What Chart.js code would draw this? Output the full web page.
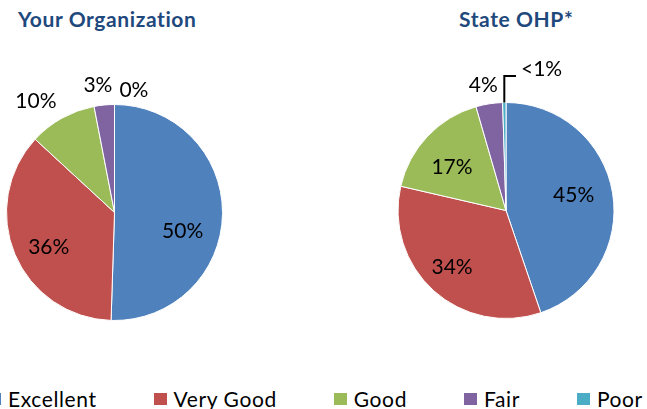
<!DOCTYPE html>
<html>
<head>
<meta charset="utf-8">
<script src="https://cdn.jsdelivr.net/npm/chart.js@4"></script>
<style>
  body { margin: 0; width: 647px; height: 409px; overflow: hidden; background: #fff; position: relative;
         font-family: Lato, 'Open Sans', sans-serif; }
  .title { position: absolute; top: 6px; font-weight: bold; font-size: 21px; line-height: 26px; letter-spacing: 0.6px; color: #1F497D; white-space: nowrap; }
  #legend { position: absolute; left: -12px; top: 388px; display: flex; align-items: center; }
  #legend .item { display: flex; align-items: center; margin-right: 57px; font-size: 21px; line-height: 22px; letter-spacing: 0.6px; color: #000; white-space: nowrap; }
  #legend .box { width: 13px; height: 12px; margin-right: 7px; }
  canvas { position: absolute; }
</style>
</head>
<body>
<div class="title" style="left:18px">Your Organization</div>
<div class="title" style="left:459px">State OHP*</div>
<div style="position:absolute;left:0;top:60px;width:240px;height:280px"><canvas id="org"></canvas></div>
<div style="position:absolute;left:380px;top:40px;width:260px;height:300px"><canvas id="state"></canvas></div>
<div id="legend"></div>
<script>
var labels = ["Excellent", "Very Good", "Good", "Fair", "Poor"];
var colors = ["#4F81BD", "#C0504D", "#9BBB59", "#8064A2", "#4BACC6"];
var orgValues = [50, 36, 10, 3, 0];
var stateValues = [45, 34, 17, 4, 0.5];

// draws the percentage labels next to each slice
var pieLabels = {
  id: "pieLabels",
  afterDatasetsDraw: function(chart, args, opts) {
    var ctx = chart.ctx;
    var meta = chart.getDatasetMeta(0);
    var data = chart.data.datasets[0].data;
    ctx.save();
    ctx.font = "21px Lato, 'Open Sans', sans-serif";
    ctx.fillStyle = "#000";
    ctx.textAlign = "center";
    ctx.textBaseline = "middle";
    meta.data.forEach(function(arc, i) {
      var p = arc.getProps(["x", "y", "startAngle", "endAngle", "outerRadius"], true);
      var tw = opts.place[i];
      var m = (p.startAngle + p.endAngle) / 2;
      var a = m + tw[0] * Math.PI / 180;
      var r = p.outerRadius * tw[1];
      var x = p.x + Math.cos(a) * r;
      var y = p.y + Math.sin(a) * r;
      var text = data[i] > 0 && data[i] < 1 ? "<1%" : data[i] + "%";
      if (tw[2]) {
        // leader line for the tiny slice
        var sx = p.x + Math.cos(m) * p.outerRadius;
        var sy = p.y + Math.sin(m) * p.outerRadius;
        var ly = y + 7;
        var ex = x - ctx.measureText(text).width / 2 - 5;
        ctx.strokeStyle = "#000";
        ctx.lineWidth = 2;
        ctx.beginPath();
        ctx.moveTo(sx, sy);
        ctx.lineTo(sx, ly);
        ctx.lineTo(ex, ly);
        ctx.stroke();
      }
      ctx.fillText(text, x, y);
    });
    ctx.restore();
  }
};

function makePie(id, values, padding, place) {
  return new Chart(document.getElementById(id).getContext("2d"), {
    type: "pie",
    data: {
      labels: labels,
      datasets: [{
        data: values,
        backgroundColor: colors,
        borderColor: "#fff",
        borderWidth: 1
      }]
    },
    options: {
      responsive: true,
      maintainAspectRatio: false,
      animation: false,
      layout: { padding: padding },
      plugins: {
        legend: { display: false },
        tooltip: { enabled: false },
        pieLabels: { place: place }
      }
    },
    plugins: [pieLabels]
  });
}

makePie("org", orgValues, { left: 6, right: 17, top: 44, bottom: 19 },
  [[14.2, 0.654], [-5.4, 0.69], [-6.1, 1.263], [-2, 1.185], [9, 1.148]]);
makePie("state", stateValues, { left: 17, right: 25, top: 62, bottom: 21 },
  [[-3.7, 0.643], [1.3, 0.727], [-5, 0.638], [-1.3, 1.18], [15, 1.351, true]]);

var legend = document.getElementById("legend");
labels.forEach(function(l, i) {
  var item = document.createElement("div");
  item.className = "item";
  var box = document.createElement("span");
  box.className = "box";
  box.style.background = colors[i];
  item.appendChild(box);
  item.appendChild(document.createTextNode(l));
  legend.appendChild(item);
});
</script>
</body>
</html>
